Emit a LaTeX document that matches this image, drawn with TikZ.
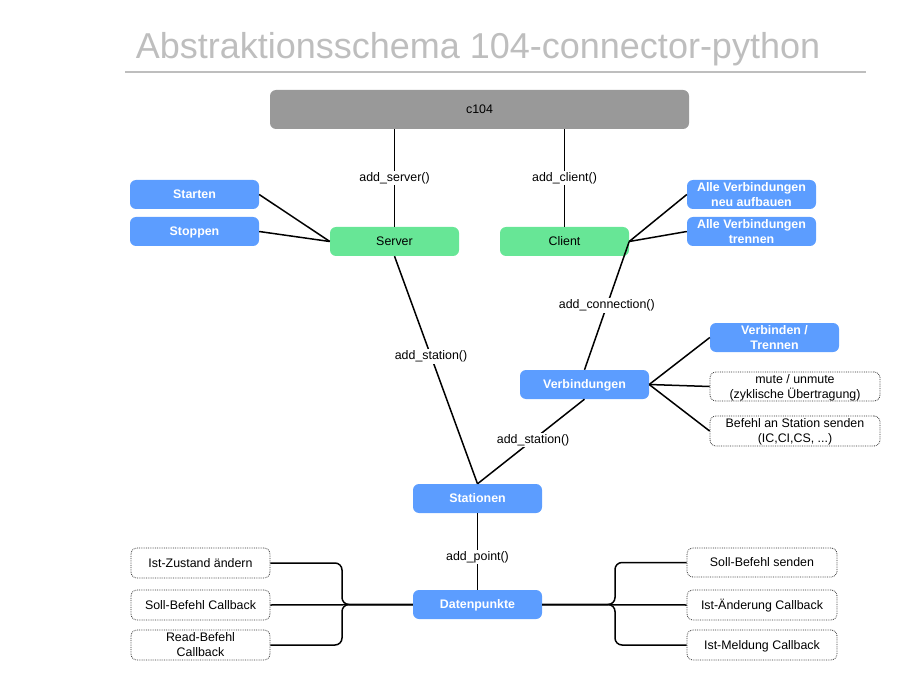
\documentclass[tikz,border=0pt]{standalone}
\usepackage{fontspec}
\setmainfont{Liberation Sans}
\usepackage{xcolor}
\usepackage{tikz}
\usetikzlibrary{positioning}

\definecolor{actblue}{RGB}{92,157,255}
\definecolor{objgreen}{RGB}{103,230,150}
\definecolor{rootgray}{RGB}{153,153,153}
\definecolor{titlegray}{RGB}{190,190,190}

\begin{document}
\begin{tikzpicture}[x=1pt, y=-1pt,
      font=\fontsize{12.4}{15}\selectfont,
      box/.style={rounded corners=6pt, align=center, inner sep=1pt, text depth=0.5pt, minimum width=129pt, minimum height=29pt},
      act/.style={box, fill=actblue, text=white, font=\fontsize{12.4}{15}\selectfont\bfseries},
      obj/.style={box, fill=objgreen},
      opt/.style={box, draw=black!80, densely dotted, line width=0.8pt},
      lbl/.style={fill=white, inner sep=1.5pt},
      con/.style={line width=1.5pt}]
    \useasboundingbox (0,0) rectangle (905,679);
    % title
    \node (title) at (478,49) {\fontsize{36}{40}\selectfont\color{titlegray}Abstraktionsschema 104-connector-python};
    \draw[titlegray, line width=2pt] (125,72) -- (866,72);
    % top
    \node[box, fill=rootgray, minimum width=419pt, minimum height=39pt] (c104) at (479.5,109.5) {c104};
    \node[obj] (server) at (394.5,241.5) {Server};
    \node[obj] (client) at (564.5,241.5) {Client};
    \node[act] (starten) at (194.5,194.5) {Starten};
    \node[act] (stoppen) at (194.5,231.5) {Stoppen};
    \node[act] (neuauf) at (751.5,194.5) {Alle Verbindungen\\neu aufbauen};
    \node[act] (trennen) at (751.5,231.5) {Alle Verbindungen\\trennen};
    % verbindungen
    \node[act] (verb) at (584.5,384.5) {Verbindungen};
    \node[act] (verbtr) at (774.5,337.5) {Verbinden /\\Trennen};
    \node[opt, minimum width=170pt] (mute) at (795,386.5) {mute / unmute\\(zyklische Übertragung)};
    \node[opt, minimum width=170pt, minimum height=30pt] (befehl) at (795,431) {Befehl an Station senden\\(IC,CI,CS, ...)};
    % stationen, datenpunkte
    \node[act] (stat) at (477.5,498.5) {Stationen};
    \node[act] (dp) at (477.5,604.5) {Datenpunkte};
    \node[opt, minimum width=139pt, minimum height=30pt] (istz) at (200.5,563) {Ist-Zustand ändern};
    \node[opt, minimum width=139pt, minimum height=30pt] (sollcb) at (200.5,605) {Soll-Befehl Callback};
    \node[opt, minimum width=139pt, minimum height=30pt] (readcb) at (200.5,645) {Read-Befehl\\Callback};
    \node[opt, minimum width=150pt] (sollsend) at (762,562.5) {Soll-Befehl senden};
    \node[opt, minimum width=150pt, minimum height=30pt] (istaend) at (762,605) {Ist-Änderung Callback};
    \node[opt, minimum width=150pt, minimum height=30pt] (istmeld) at (762,645) {Ist-Meldung Callback};
    \coordinate (lb) at (342,604.5);
    \coordinate (rb) at (615,604.5);

    \draw[con] (server.north |- c104.south) -- (server.north) node[lbl, midway] {add\_server()};
    \draw[con] (client.north |- c104.south) -- (client.north) node[lbl, midway] {add\_client()};
    \draw[con] (starten.east) -- (server.west);
    \draw[con] (stoppen.east) -- (server.west);
    \draw[con] (client.east) -- (neuauf.west);
    \draw[con] (client.east) -- (trennen.west);
    \draw[con] (client.east) -- (verb.north) node[lbl, midway] {add\_connection()};
    \draw[con] (server.south) -- (stat.north) node[lbl, pos=0.44] {add\_station()};
    \draw[con] (verb.south) -- (stat.north) node[lbl, pos=0.48] {add\_station()};
    \foreach \n in {verbtr, mute, befehl}
      \draw[con] (verb.east) -- (\n.west);
    \draw[con] (stat.south) -- (dp.north) node[lbl, pos=0.57] {add\_point()};
    % braces
    \draw[con] (sollcb.east) -- (dp.west);
    \draw[con, rounded corners=7pt] (istz.east) -| (lb) -- (dp.west);
    \draw[con, rounded corners=7pt] (readcb.east) -| (lb) -- (dp.west);
    \draw[con] (istaend.west) -- (dp.east);
    \draw[con, rounded corners=7pt] (sollsend.west) -| (rb) -- (dp.east);
    \draw[con, rounded corners=7pt] (istmeld.west) -| (rb) -- (dp.east);
  \end{tikzpicture}
\end{document}
